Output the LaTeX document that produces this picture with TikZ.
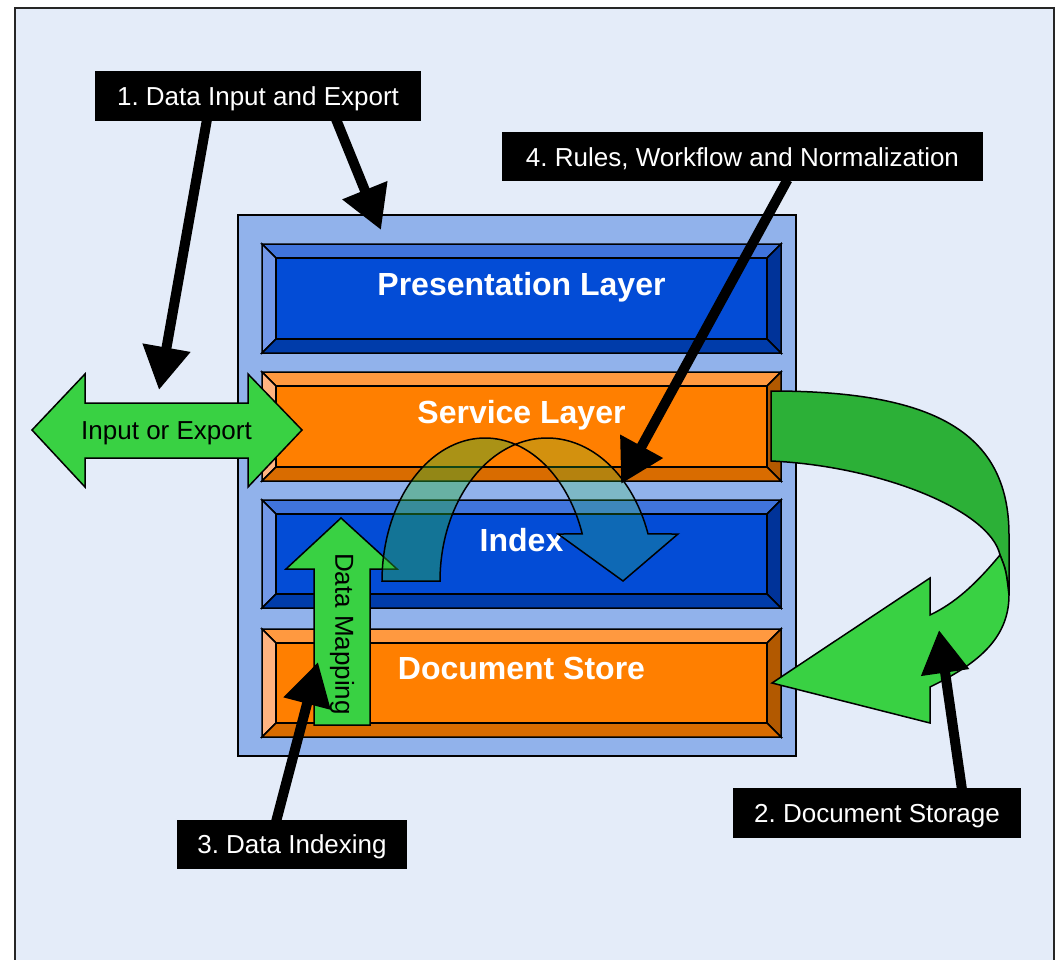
\documentclass[tikz,border=0pt]{standalone}
\usepackage{fontspec}
\setmainfont{Liberation Sans}
\usetikzlibrary{arrows.meta}
\frenchspacing
\definecolor{bgframe}{RGB}{228,236,249}
\definecolor{contblue}{RGB}{145,178,235}
\definecolor{bC}{RGB}{3,76,214}
\definecolor{bT}{RGB}{64,116,220}
\definecolor{bL}{RGB}{115,152,232}
\definecolor{bR}{RGB}{0,51,153}
\definecolor{bB}{RGB}{0,60,170}
\definecolor{oC}{RGB}{255,127,0}
\definecolor{oT}{RGB}{255,153,64}
\definecolor{oL}{RGB}{255,179,128}
\definecolor{oR}{RGB}{178,89,0}
\definecolor{oB}{RGB}{217,108,0}
\definecolor{lgreen}{RGB}{57,209,67}
\definecolor{dgreen}{RGB}{44,176,55}
\newcommand{\bevelbox}[9]{%
  \draw[shapeline,fill=#6] (#1,#2) -- (#3,#2) -- (#3-14,#2+14) -- (#1+14,#2+14) -- cycle;
  \draw[shapeline,fill=#7] (#1,#2) -- (#1+14,#2+14) -- (#1+14,#4-14) -- (#1,#4) -- cycle;
  \draw[shapeline,fill=#8] (#3,#2) -- (#3,#4) -- (#3-14,#4-14) -- (#3-14,#2+14) -- cycle;
  \draw[shapeline,fill=#9] (#1,#4) -- (#3,#4) -- (#3-14,#4-14) -- (#1+14,#4-14) -- cycle;
  \draw[shapeline,fill=#5] (#1+14,#2+14) rectangle (#3-14,#4-14);
}
\begin{document}
\begin{tikzpicture}[x=1pt,y=-1pt,
  shapeline/.style={draw=black,line width=1.5pt,line join=miter},
  lbl/.style={fill=black,text=white,inner sep=0pt,font=\fontsize{26}{30}\selectfont\frenchspacing,
    text height=18.6pt,text depth=0pt,align=center},
  layertext/.style={text=white,inner sep=0pt,font=\fontsize{32}{36}\selectfont\bfseries,anchor=base},
  greentext/.style={text=black,inner sep=0pt,font=\fontsize{26}{30}\selectfont},
  callout/.style={line width=10pt,draw=black,-{Triangle[length=43pt,width=46pt]}}]
\clip (0,0) rectangle (1059,960);
\fill[white] (0,0) rectangle (1059,960);
\draw[line width=2pt,draw=black!85,fill=bgframe] (15,8) rectangle (1054,990);

% callout labels
\node[lbl,minimum width=326pt,minimum height=50pt] (L1) at (258,96) {1. Data Input and Export};
\node[lbl,minimum width=481pt,minimum height=49pt] (L4) at (742.5,157) {4. Rules, Workflow and Normalization};
\node[lbl,minimum width=288pt,minimum height=50pt] (L2) at (877,813) {2. Document Storage};
\node[lbl,minimum width=230pt,minimum height=49pt] (L3) at (292,844.5) {3. Data Indexing};

% container and layers
\draw[shapeline,fill=contblue] (238,215) rectangle (796,756);
\bevelbox{262}{244}{781}{353}{bC}{bT}{bL}{bR}{bB}
\bevelbox{262}{372}{781}{481}{oC}{oT}{oL}{oR}{oB}
\bevelbox{262}{500}{781}{608}{bC}{bT}{bL}{bR}{bB}
\bevelbox{262}{629}{781}{737}{oC}{oT}{oL}{oR}{oB}
\node[layertext] (tPres) at (521.5,295) {Presentation Layer};
\node[layertext] (tServ) at (521.5,423) {Service Layer};
\node[layertext] (tIdx) at (521.5,551) {Index};
\node[layertext] (tDoc) at (521.5,679) {Document Store};

% input / export double arrow
\draw[shapeline,fill=lgreen] (32,430) -- (85,374) -- (85,403) -- (248,403) -- (248,374) -- (302,430)
  -- (248,487) -- (248,458) -- (85,458) -- (85,487) -- cycle;
\node[greentext,text height=18.6pt,text depth=0pt] (tIO) at (166.5,430) {Input or Export};

% data mapping arrow
\draw[shapeline,fill=lgreen] (314,725) -- (314,569) -- (286,569) -- (341,518) -- (397,569)
  -- (370,569) -- (370,725) -- cycle;
\node[greentext,rotate=-90] (tDM) at (342,634) {Data Mapping};

% translucent curved arrow (service -> index)
\draw[shapeline,fill=dgreen,fill opacity=0.4]
  plot[domain=180:287.5,samples=50] ({485+103*cos(\x)},{581+143*sin(\x)})
  -- plot[domain=253.16:180,samples=50] ({547+107*cos(\x)},{581+143*sin(\x)}) -- cycle;
\draw[shapeline,fill=lgreen,fill opacity=0.22]
  plot[domain=253.16:340.8,samples=50] ({547+107*cos(\x)},{581+143*sin(\x)})
  -- (678,534) -- (623,581) -- (558,534)
  -- plot[domain=340.8:287.5,samples=40] ({485+103*cos(\x)},{581+143*sin(\x)}) -- cycle;

% big U-turn arrow (service -> document store)
\draw[shapeline,fill=dgreen] (771,391) .. controls (930,391) and (1009,430) .. (1009,535)
  -- (1009,595) .. controls (1006,570) .. (1000,555)
  .. controls (990,510) and (880,466) .. (771,461) -- cycle;
\draw[shapeline,fill=lgreen] (930,615) .. controls (955,603) and (975,585) .. (1000,555)
  .. controls (1006,570) .. (1009,595)
  .. controls (1009,640) and (975,665) .. (930,687)
  -- (930,723) -- (772,683) -- (930,578) -- cycle;

% callout connectors
\coordinate (tip1a) at (159,390);
\coordinate (tip1b) at (381,230);
\coordinate (tip4) at (621,484);
\coordinate (tip2) at (939,630);
\coordinate (tip3) at (318,662);
\draw[callout] ([xshift=-51pt,yshift=2pt]L1.south) -- (tip1a);
\draw[callout] ([xshift=78pt,yshift=2pt]L1.south) -- (tip1b);
\draw[callout] ([xshift=45pt,yshift=2pt]L4.south) -- (tip4);
\draw[callout] ([xshift=85pt,yshift=-2pt]L2.north) -- (tip2);
\draw[callout] ([xshift=-16pt,yshift=-2pt]L3.north) -- (tip3);
\end{tikzpicture}
\end{document}
